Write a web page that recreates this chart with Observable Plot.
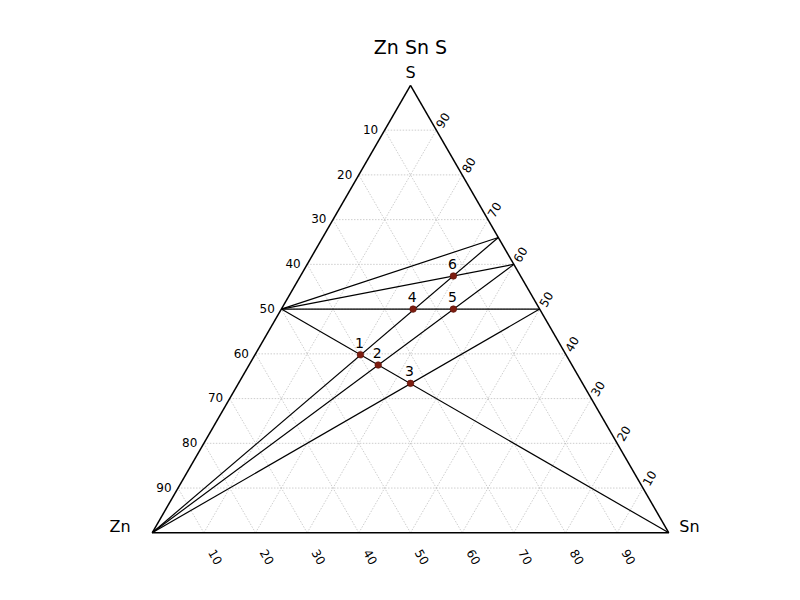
<!DOCTYPE html>
<html><head><meta charset="utf-8">
<script src="https://cdn.jsdelivr.net/npm/d3@7"></script>
<script src="https://cdn.jsdelivr.net/npm/@observablehq/plot@0.6"></script>
<style>body{margin:0;background:#fff}</style>
</head><body><div id="chart"></div>
<script>
// ---- data (compositions in %, [Zn, Sn, S]) ----
const title = "Zn Sn S";
const vertexNames = ["Zn", "Sn", "S"];
const tickValues = [10, 20, 30, 40, 50, 60, 70, 80, 90];

const pointLabels = ["1", "2", "3", "4", "5", "6"];
const pointZn = [39.8, 37.5, 33.3, 24.5, 16.7, 13.0];
const pointSn = [20.4, 25.0, 33.3, 25.5, 33.3, 29.6];
const pointS  = [39.8, 37.5, 33.4, 50.0, 50.0, 57.4];

const phaseNames = ["Zn", "Sn", "ZnS", "SnS", "Sn2S3", "SnS2"];
const phaseZn = [100, 0, 50, 0, 0, 0];
const phaseSn = [0, 100, 0, 50, 40, 34];
const phaseS  = [0, 0, 50, 50, 60, 66];

const lineFrom = ["Zn", "Zn", "Zn", "ZnS", "ZnS", "ZnS", "ZnS"];
const lineTo   = ["SnS2", "Sn2S3", "SnS", "SnS2", "Sn2S3", "SnS", "Sn"];

// ---- ternary -> cartesian ----
const R3 = Math.sqrt(3) / 2;
function tx(zn, sn, s) { const t = zn + sn + s; return (sn + s / 2) / t; }
function ty(zn, sn, s) { const t = zn + sn + s; return (s * R3) / t; }
function phase(name) { const i = phaseNames.indexOf(name); return [phaseZn[i], phaseSn[i], phaseS[i]]; }

const edges = [
  {a: [100, 0, 0], b: [0, 100, 0]},
  {a: [0, 100, 0], b: [0, 0, 100]},
  {a: [0, 0, 100], b: [100, 0, 0]}
].map(e => ({x1: tx(...e.a), y1: ty(...e.a), x2: tx(...e.b), y2: ty(...e.b)}));

const grid = [];
for (const k of tickValues) {
  const segs = [
    [[100 - k, 0, k], [0, 100 - k, k]],
    [[k, 100 - k, 0], [k, 0, 100 - k]],
    [[100 - k, k, 0], [0, k, 100 - k]]
  ];
  for (const [a, b] of segs) grid.push({x1: tx(...a), y1: ty(...a), x2: tx(...b), y2: ty(...b)});
}

const tieLines = lineFrom.map((f, i) => {
  const a = phase(f), b = phase(lineTo[i]);
  return {x1: tx(...a), y1: ty(...a), x2: tx(...b), y2: ty(...b)};
});

const points = pointLabels.map((l, i) => ({
  label: l, x: tx(pointZn[i], pointSn[i], pointS[i]), y: ty(pointZn[i], pointSn[i], pointS[i])
}));

const leftTicks = tickValues.map(k => ({t: String(k), x: tx(k, 0, 100 - k), y: ty(k, 0, 100 - k)}));
const rightTicks = tickValues.map(k => ({t: String(k), x: tx(0, 100 - k, k), y: ty(0, 100 - k, k)}));
const bottomTicks = tickValues.map(k => ({t: String(k), x: tx(100 - k, k, 0), y: ty(100 - k, k, 0)}));

const V = [[100, 0, 0], [0, 100, 0], [0, 0, 100]].map(c => ({x: tx(...c), y: ty(...c)}));

const font = "DejaVu Sans";
const chart = Plot.plot({
  width: 800, height: 600,
  marginTop: 0, marginRight: 0, marginBottom: 0, marginLeft: 0,
  style: {fontFamily: font, background: "#fff", color: "#000"},
  x: {domain: [-0.29365, 1.25494], range: [0, 800], axis: null},
  y: {domain: [-0.13105, 1.03039], range: [600, 0], axis: null},
  marks: [
    Plot.link(grid, {x1: "x1", y1: "y1", x2: "x2", y2: "y2", stroke: "#b8b8b8", strokeWidth: 0.7, strokeDasharray: "1.5,1.5"}),
    Plot.link(edges, {x1: "x1", y1: "y1", x2: "x2", y2: "y2", stroke: "#000", strokeWidth: 1.5}),
    Plot.link(tieLines, {x1: "x1", y1: "y1", x2: "x2", y2: "y2", stroke: "#000", strokeWidth: 1.2}),
    Plot.dot(points, {x: "x", y: "y", r: 3.3, fill: "#7d1d10", stroke: "#5a130a", strokeWidth: 0.6}),
    Plot.text(points, {x: "x", y: "y", text: "label", dx: -1, dy: -11.5, fontSize: 14, fill: "#000"}),
    Plot.text(leftTicks, {x: "x", y: "y", text: "t", textAnchor: "end", dx: -6.5, fontSize: 12, fill: "#000"}),
    Plot.text(rightTicks, {x: "x", y: "y", text: "t", dx: 7, dy: -9.5, rotate: -60, fontSize: 12, fill: "#000"}),
    Plot.text(bottomTicks, {x: "x", y: "y", text: "t", dx: 11, dy: 24.5, rotate: 60, fontSize: 12, fill: "#000"}),
    Plot.text([V[0]], {x: "x", y: "y", text: [vertexNames[0]], textAnchor: "end", dx: -21.5, dy: -6, fontSize: 16, fill: "#000"}),
    Plot.text([V[1]], {x: "x", y: "y", text: [vertexNames[1]], textAnchor: "start", dx: 10.5, dy: -6, fontSize: 16, fill: "#000"}),
    Plot.text([V[2]], {x: "x", y: "y", text: [vertexNames[2]], dy: -12.5, fontSize: 16, fill: "#000"}),
    Plot.text([V[2]], {x: "x", y: "y", text: [title], dy: -38, fontSize: 19, fill: "#000"})
  ]
});
document.getElementById("chart").appendChild(chart);
</script>
</body></html>
